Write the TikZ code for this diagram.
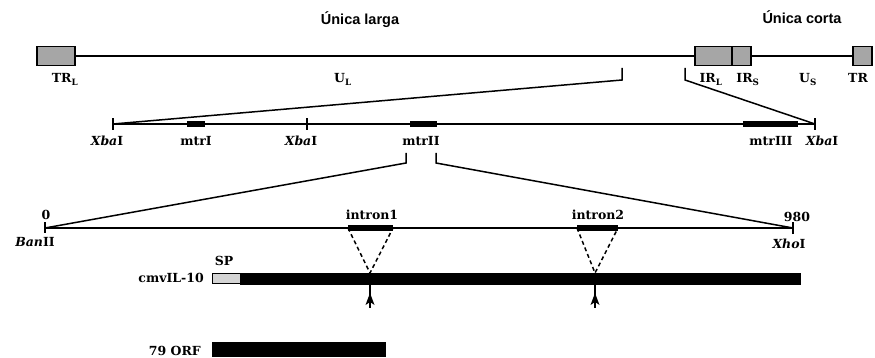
\documentclass[tikz,border=0pt]{standalone}
\usepackage{fontspec}
\setmainfont{DejaVu Serif}
\newfontfamily\headfont{Liberation Sans}
\usetikzlibrary{arrows.meta}
\definecolor{boxgray}{HTML}{A6A6A6}
\definecolor{spgray}{HTML}{D4D4D4}
\begin{document}
\begin{tikzpicture}[x=1pt,y=-1pt,
  lbl/.style={font=\bfseries\fontsize{12.5}{13}\selectfont, inner sep=0pt, anchor=base},
  head/.style={font=\headfont\bfseries\fontsize{14.5}{15}\selectfont, inner sep=0pt, anchor=base},
  gbox/.style={draw, line width=1.3pt, fill=boxgray, minimum height=19pt, inner sep=0pt},
  dna/.style={line width=2pt},
  gene/.style={line width=5.5pt},
  zoomline/.style={line width=1.5pt},
  tick/.style={line width=1.4pt},
  introndash/.style={dashed, line width=1.5pt, dash pattern=on 4pt off 3pt},
  bar/.style={fill=black, draw=black},
  head tip/.style={fill=black}]
\useasboundingbox (0,0) rectangle (875,358);

% ---------- genome line ----------
\node[head] (ul) at (360,25) {Única larga};
\node[head] (us) at (802,24) {Única corta};
\node[gbox, minimum width=38pt] (trl) at (56,56) {};
\node[gbox, minimum width=37pt] (irl) at (713.5,56) {};
\node[gbox, minimum width=19pt] (irs) at (741.5,56) {};
\node[gbox, minimum width=19pt] (tr) at (862.5,56) {};
\draw[dna] (trl.east) -- (irl.west);
\draw[dna] (irs.east) -- (tr.west);
\node[lbl] (ltrl) at (65,83) {TR\textsubscript{L}};
\node[lbl] (lul) at (343,83) {U\textsubscript{L}};
\node[lbl] (lirl) at (711,83) {IR\textsubscript{L}};
\node[lbl] (lirs) at (748,83) {IR\textsubscript{S}};
\node[lbl] (lus) at (808,83) {U\textsubscript{S}};
\node[lbl, anchor=base west] (ltr) at (848,83) {TR};

% ---------- XbaI fragment ----------
\coordinate (x1) at (113,124);
\coordinate (x2) at (307,124);
\coordinate (x3) at (815,124);
\draw[dna] (x1) -- (x3);
\foreach \c in {x1,x2,x3} \draw[tick] ([yshift=-6pt]\c) -- ([yshift=6pt]\c);
\coordinate (m1a) at (187,124); \coordinate (m1b) at (205,124);
\coordinate (m2a) at (410,124); \coordinate (m2b) at (437,124);
\coordinate (m3a) at (743,124); \coordinate (m3b) at (798,124);
\draw[gene] (m1a) -- (m1b);
\draw[gene] (m2a) -- (m2b);
\draw[gene] (m3a) -- (m3b);
\node[lbl] (lx1) at (107,146) {\textit{Xba}I};
\node[lbl] (lm1) at (196,146) {mtrI};
\node[lbl] (lx2) at (301,146) {\textit{Xba}I};
\node[lbl] (lm2) at (421,146) {mtrII};
\node[lbl] (lm3) at (771,146) {mtrIII};
\node[lbl] (lx3) at (822,146) {\textit{Xba}I};

% zoom from genome
\coordinate (bl) at (622,68);
\coordinate (br) at (685,68);
\draw[zoomline] (bl) -- ++(0,12) -- (x1);
\draw[zoomline] (br) -- ++(0,12) -- (x3);

% ---------- BanII - XhoI fragment ----------
\coordinate (b1) at (45,228);
\coordinate (b2) at (793,228);
\draw[dna] (b1) -- (b2);
\draw[tick] ([yshift=6pt]b1) -- ([yshift=-5pt]b1);
\draw[tick] ([yshift=-6pt]b2) -- ([yshift=6pt]b2);
\coordinate (i1a) at (348,228); \coordinate (i1b) at (393,228);
\coordinate (i2a) at (577,228); \coordinate (i2b) at (618,228);
\draw[gene] (i1a) -- (i1b);
\draw[gene] (i2a) -- (i2b);
\node[lbl] (l0) at (46,219) {0};
\node[lbl] (l980) at (797,222) {980};
\node[lbl] (lban) at (35,246) {\textit{Ban}II};
\node[lbl] (lxho) at (789,248) {\textit{Xho}I};
\node[lbl] (li1) at (372,219) {intron1};
\node[lbl] (li2) at (598,219) {intron2};

% zoom from mtrII
\coordinate (cl) at (406,153);
\coordinate (cr) at (436,153);
\draw[zoomline] (cl) -- ++(0,10) -- (b1);
\draw[zoomline] (cr) -- ++(0,10) -- (b2);

% ---------- cmvIL-10 ----------
\node[draw, line width=0.9pt, fill=spgray, minimum width=28pt, minimum height=10pt, inner sep=0pt] (sp) at (226,278.5) {};
\node[bar, minimum width=560pt, minimum height=11pt, inner sep=0pt, anchor=west] (cmv) at (sp.east) {};
\node[lbl] (lsp) at (224,265) {SP};
\node[lbl, anchor=base east] (lcmv) at (204,282) {cmvIL-10};
\coordinate (j1) at (370,273);
\coordinate (j2) at (595,273);
\draw[introndash] (i1a) -- (j1) -- (i1b);
\draw[introndash] (i2a) -- (j2) -- (i2b);
\coordinate (a1) at (370,308);
\coordinate (a2) at (595,308);
\draw[tick] (j1 |- cmv.south) -- (a1);
\draw[tick] (j2 |- cmv.south) -- (a2);
\foreach \p in {a1,a2}
  \fill[head tip] ([yshift=15pt]\p) -- ([xshift=-4.5pt,yshift=3pt]\p) -- ([yshift=6pt]\p) -- ([xshift=4.5pt,yshift=3pt]\p) -- cycle;

% ---------- 79 ORF ----------
\node[bar, minimum width=173pt, minimum height=14pt, inner sep=0pt, anchor=west] (orf) at (212,349) {};
\node[lbl, anchor=base east] (lorf) at (201,355) {79 ORF};
\end{tikzpicture}
\end{document}
